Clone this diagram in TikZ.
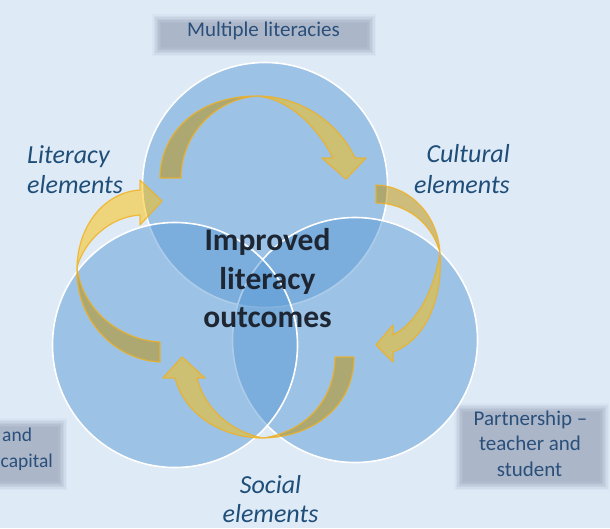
\documentclass[tikz,border=0pt]{standalone}
\usepackage{fontspec}
\setmainfont{Carlito}
\definecolor{bg}{HTML}{DEEAF6}
\definecolor{circblue}{HTML}{5B9BD5}
\definecolor{gold}{HTML}{FFC000}
\definecolor{golddark}{HTML}{BF9000}
\definecolor{goldline}{HTML}{F2B01E}
\definecolor{labelblue}{HTML}{1F4E79}
\definecolor{boxtext}{HTML}{2A4F7A}
\definecolor{boxfill}{HTML}{ABB7C9}
\definecolor{darktext}{HTML}{1E2633}
\newcommand{\softrect}[4]{%
  \fill[boxfill!12!bg] (#1-5,#2-5) rectangle (#3+5,#4+5);
  \fill[boxfill!28!bg] (#1-3.5,#2-3.5) rectangle (#3+3.5,#4+3.5);
  \fill[boxfill!45!bg] (#1-2,#2-2) rectangle (#3+2,#4+2);
  \fill[boxfill!62!bg] (#1-0.5,#2-0.5) rectangle (#3+0.5,#4+0.5);
  \fill[boxfill!80!bg] (#1+1,#2+1) rectangle (#3-1,#4-1);
  \fill[boxfill!92!bg] (#1+2.5,#2+2.5) rectangle (#3-2.5,#4-2.5);
  \fill[boxfill] (#1+4,#2+4) rectangle (#3-4,#4-4);}
\tikzset{
  circ/.style={circle, minimum size=245pt, inner sep=0pt, fill=circblue, fill opacity=0.5, draw=white, draw opacity=1, line width=1.6pt},
  frontpart/.style={fill=gold, fill opacity=0.5, draw=goldline, draw opacity=0.8, line width=1.2pt, line join=round},
  backpart/.style={fill=golddark, fill opacity=0.5, draw=goldline, draw opacity=0.8, line width=1.2pt, line join=round},
  lbl/.style={inner sep=0pt, text=labelblue, font=\itshape\fontsize{26}{31}\selectfont},
  ctr/.style={inner sep=0pt, text=darktext, font=\bfseries\fontsize{31.5}{38}\selectfont},
  bxt/.style={inner sep=0pt, text=boxtext, font=\fontsize{21}{25}\selectfont},
  bxs/.style={inner sep=0pt, text=boxtext, font=\fontsize{19.5}{25}\selectfont}
}
\begin{document}
\begin{tikzpicture}[x=1pt,y=-1pt]
\useasboundingbox (0,0) rectangle (610,528);
\fill[bg] (0,0) rectangle (610,528);

% grey boxes
\softrect{157}{19}{371}{51}
\softrect{459}{408}{604}{485}
\softrect{-10}{423}{62}{485}

% circles
\node[circ] (ctop) at (265,185) {};
\node[circ] (cright) at (355,340) {};
\node[circ] (cleft) at (175,345) {};

% arrow 1 (top)
\path[backpart] (160,178) .. controls (160,135) and (195,96) .. (257,96)
  .. controls (215,99) and (181,135) .. (181,178) -- cycle;
\path[frontpart] (257,96) .. controls (300,96) and (338,122) .. (355,158)
  -- (366,158) -- (346,179) -- (322,158) -- (333,158)
  .. controls (318,128) and (290,99) .. (257,96) -- cycle;

% arrow 2 (left)
\path[backpart] (77,267) .. controls (75,320) and (115,360) .. (160,362)
  -- (160,342) .. controls (120,340) and (82,310) .. (77,267) -- cycle;
\path[frontpart] (77,267) .. controls (78,225) and (105,192) .. (140,190)
  -- (140,180) -- (162,201) -- (140,225) -- (140,215)
  .. controls (110,217) and (85,240) .. (77,267) -- cycle;

% arrow 3 (right)
\path[backpart] (376,185) .. controls (410,186) and (438,215) .. (440,253)
  .. controls (432,222) and (405,203) .. (376,203) -- cycle;
\path[frontpart] (440,253) .. controls (443,300) and (425,340) .. (393,352)
  -- (393,362) -- (376,345) -- (393,325) -- (393,335)
  .. controls (418,322) and (434,290) .. (440,253) -- cycle;

% arrow 4 (bottom)
\path[backpart] (354,357) .. controls (354,405) and (315,437) .. (263,438)
  .. controls (305,432) and (335,400) .. (335,357) -- cycle;
\path[frontpart] (263,438) .. controls (222,438) and (185,415) .. (175,378)
  -- (163,378) -- (182,357) -- (205,378) -- (197,378)
  .. controls (205,410) and (232,432) .. (263,438) -- cycle;

% labels
\node[lbl, anchor=base west] (lit1) at (27,163) {Literacy};
\node[lbl, anchor=base west] (lit2) at (27,193) {elements};
\node[lbl, anchor=base east] (cul1) at (510,162) {Cultural};
\node[lbl, anchor=base east] (cul2) at (510,193) {elements};
\node[lbl, anchor=base] (soc1) at (270.5,493) {Social};
\node[lbl, anchor=base] (soc2) at (270.5,522) {elements};

\node[ctr, anchor=base] (imp1) at (267.5,250) {Improved};
\node[ctr, anchor=base] (imp2) at (267.5,289) {literacy};
\node[ctr, anchor=base] (imp3) at (267.5,327.5) {outcomes};

\node[bxt, anchor=base] (ml) at (263.5,36) {Multiple literacies};
\node[bxt, anchor=base] (p1) at (530.5,425) {Partnership –};
\node[bxt, anchor=base] (p2) at (530,450) {teacher and};
\node[bxt, anchor=base] (p3) at (529.5,476) {student};
\node[bxs, anchor=base west] (c1) at (2,441) {and};
\node[bxs, anchor=base west] (c2) at (0.5,467) {capital};
\end{tikzpicture}
\end{document}
